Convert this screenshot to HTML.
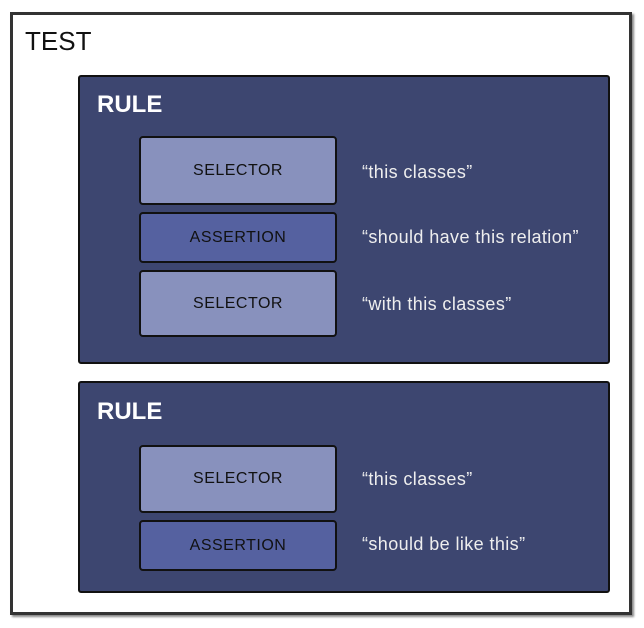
<!DOCTYPE html>
<html><head><style>
body{margin:0;width:644px;height:628px;background:#fff;position:relative;overflow:hidden;font-family:"Liberation Sans",sans-serif}
.a{position:absolute;box-sizing:border-box}
.outer{left:10px;top:12px;width:622px;height:603px;border:3px solid #333;background:#fff;box-shadow:2px 2px 2px #888}
.rule{left:78px;width:532px;background:#3d4670;border:2px solid #111;border-radius:3px}
.box{left:139px;width:198px;border:2px solid #111;border-radius:4px;display:flex;align-items:center;justify-content:center;font-size:16px;letter-spacing:0.5px;color:#111}
.sel{background:#8891bd}.as{background:#5561a0}
.t{left:362px;color:#eee;font-size:18px;line-height:20px;letter-spacing:0.4px}
.h{color:#fff;font-weight:bold;font-size:24px;left:97px}
</style></head><body>
<div class="a outer"></div>
<div class="a" style="left:25px;top:26px;font-size:26px;color:#111">TEST</div>
<div class="a rule" style="top:75px;height:289px"></div>
<div class="a h" style="top:91px">RULE</div>
<div class="a box sel" style="top:136px;height:69px">SELECTOR</div>
<div class="a box as" style="top:212px;height:51px">ASSERTION</div>
<div class="a box sel" style="top:270px;height:67px">SELECTOR</div>
<div class="a t" style="top:162px">“this classes”</div>
<div class="a t" style="top:227px">“should have this relation”</div>
<div class="a t" style="top:294px">“with this classes”</div>
<div class="a rule" style="top:381px;height:212px"></div>
<div class="a h" style="top:398px">RULE</div>
<div class="a box sel" style="top:445px;height:68px">SELECTOR</div>
<div class="a box as" style="top:520px;height:51px">ASSERTION</div>
<div class="a t" style="top:469px">“this classes”</div>
<div class="a t" style="top:534px">“should be like this”</div>
</body></html>
